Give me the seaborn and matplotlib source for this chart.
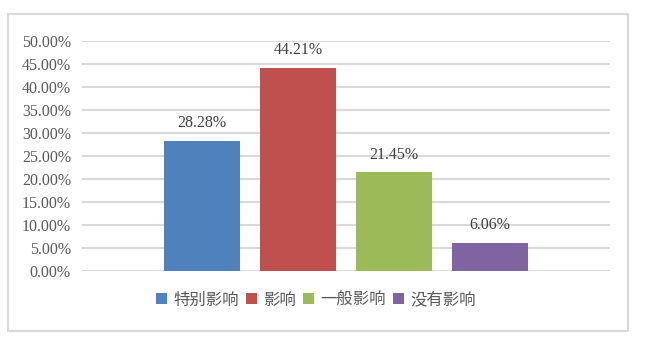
import matplotlib
matplotlib.use("Agg")
import matplotlib.pyplot as plt
import seaborn as sns
import pandas as pd
from matplotlib.patches import Patch, Rectangle
from matplotlib.ticker import FuncFormatter, MultipleLocator

categories = ["特别影响", "影响", "一般影响", "没有影响"]
values = [28.28, 44.21, 21.45, 6.06]
colors = ["#4F81BD", "#C0504D", "#9BBB59", "#8064A2"]

sns.set_theme(style="white")
plt.rcParams['font.family'] = ['Liberation Serif', 'Noto Sans CJK SC', 'DejaVu Sans']

W, H = 646, 338
fig = plt.figure(figsize=(W / 100, H / 100), dpi=100)
fig.patch.set_facecolor("white")
ax = fig.add_axes([82 / W, 1 - 271 / H, (610 - 82) / W, (271 - 41) / H])

df = pd.DataFrame({"cat": categories, "val": values})
sns.barplot(data=df, x="cat", y="val", hue="cat", palette=colors, width=0.79,
            legend=False, ax=ax, saturation=1, zorder=3, linewidth=0)

ax.set_ylim(0, 50)
ax.set_xlim(-1.25, 4.25)
ax.yaxis.set_major_locator(MultipleLocator(5))
ax.yaxis.set_major_formatter(FuncFormatter(lambda v, p: f"{v:.2f}%"))
ax.grid(axis="y", color="#D9D9D9", linewidth=1.5, zorder=0)
ax.set_axisbelow(True)
for s in ax.spines.values():
    s.set_visible(False)
ax.set_xticks([])
ax.set_xlabel("")
ax.set_ylabel("")
ax.tick_params(axis="y", length=0, pad=8, labelsize=11.5, labelcolor="#595959")
for lab in ax.get_yticklabels():
    lab.set_family("Liberation Serif")

for i, v in enumerate(values):
    ax.annotate(f"{v:.2f}%", xy=(i, v), xytext=(0, 7), textcoords="offset points",
                ha="center", va="bottom", fontsize=11.5, color="#404040",
                family="Liberation Serif")

handles = [Patch(facecolor=c, edgecolor="none") for c in colors]
leg = fig.legend(handles, categories, loc="center", bbox_to_anchor=(316 / W, 1 - 300 / H),
                 ncol=4, frameon=False, handlelength=0.65, handleheight=0.65,
                 handletextpad=0.4, columnspacing=0.45,
                 prop={"family": ["Noto Sans CJK SC", "DejaVu Sans"], "size": 11.8})
for t in leg.get_texts():
    t.set_color("#595959")

fig.patches.append(Rectangle((8 / W, 1 - 331 / H), (628 - 8) / W, (331 - 14) / H,
                             transform=fig.transFigure, fill=False,
                             edgecolor="#D9D9D9", linewidth=1.5))

fig.savefig("out.png", dpi=100, facecolor="white")
